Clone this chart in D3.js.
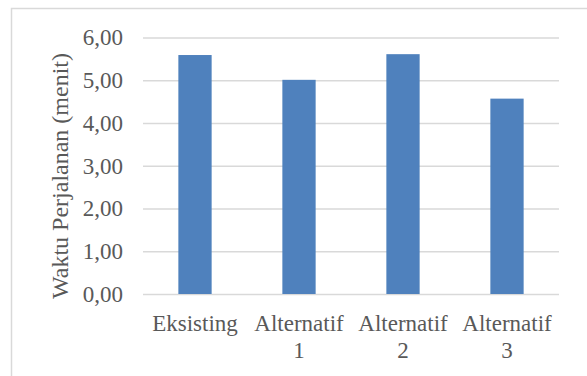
<!DOCTYPE html>
<html>
<head>
<meta charset="utf-8">
<script src="https://cdn.jsdelivr.net/npm/d3@7"></script>
<style>
  html, body { margin: 0; padding: 0; background: #fff; }
  svg { display: block; }
</style>
</head>
<body>
<script>
// Travel time per scenario (minutes)
const categories = ["Eksisting", "Alternatif 1", "Alternatif 2", "Alternatif 3"];
const values = [5.59, 5.01, 5.61, 4.57];
const yTicks = [0, 1, 2, 3, 4, 5, 6];
const yTitle = "Waktu Perjalanan (menit)";

const FONT = "Liberation Serif";
const TEXT = "#595959";
const width = 587, height = 376;
const margin = { left: 143, right: 28, top: 37.5, bottom: 82 };

const svg = d3.select("body").append("svg")
  .attr("width", width)
  .attr("height", height)
  .attr("font-family", FONT);

// chart area frame
svg.append("rect")
  .attr("x", 11.5).attr("y", 8.5)
  .attr("width", 620).attr("height", 420)
  .attr("fill", "#fff")
  .attr("stroke", "#d9d9d9")
  .attr("stroke-width", 1.5);

const x = d3.scaleBand()
  .domain(categories)
  .range([margin.left, width - margin.right])
  .paddingInner(0.68)
  .paddingOuter(0.34);

const y = d3.scaleLinear()
  .domain([0, 6])
  .range([height - margin.bottom, margin.top]);

const fmt = v => d3.format(".2f")(v).replace(".", ",");

// horizontal gridlines + tick labels
const yAxis = d3.axisLeft(y)
  .tickValues(yTicks)
  .tickFormat(fmt)
  .tickSize(-(width - margin.right - margin.left))
  .tickPadding(20);

const gy = svg.append("g")
  .attr("transform", `translate(${margin.left},0)`)
  .call(yAxis)
  .attr("font-family", FONT)
  .attr("font-size", 23);
gy.select(".domain").remove();
gy.selectAll(".tick line")
  .attr("stroke", "#d9d9d9")
  .attr("stroke-width", 1.5);
gy.selectAll(".tick text")
  .attr("font-family", FONT)
  .attr("font-size", 23)
  .attr("fill", TEXT);

// bars
svg.append("g").selectAll("rect")
  .data(categories)
  .join("rect")
  .attr("x", d => x(d))
  .attr("width", x.bandwidth())
  .attr("y", (d, i) => y(values[i]))
  .attr("height", (d, i) => y(0) - y(values[i]))
  .attr("fill", "#4f81bd");

// category labels, wrapped on the space
const gx = svg.append("g");
categories.forEach(c => {
  const cx = x(c) + x.bandwidth() / 2;
  const t = gx.append("text")
    .attr("text-anchor", "middle")
    .attr("font-family", FONT)
    .attr("font-size", 23)
    .attr("fill", TEXT)
    .attr("x", cx)
    .attr("y", 331);
  c.split(" ").forEach((w, i) => {
    t.append("tspan")
      .attr("x", cx)
      .attr("dy", i === 0 ? 0 : 27)
      .text(w);
  });
});

// y axis title
svg.append("text")
  .attr("transform", "translate(68,176) rotate(-90)")
  .attr("text-anchor", "middle")
  .attr("font-family", FONT)
  .attr("font-size", 24)
  .attr("fill", TEXT)
  .text(yTitle);
</script>
</body>
</html>
